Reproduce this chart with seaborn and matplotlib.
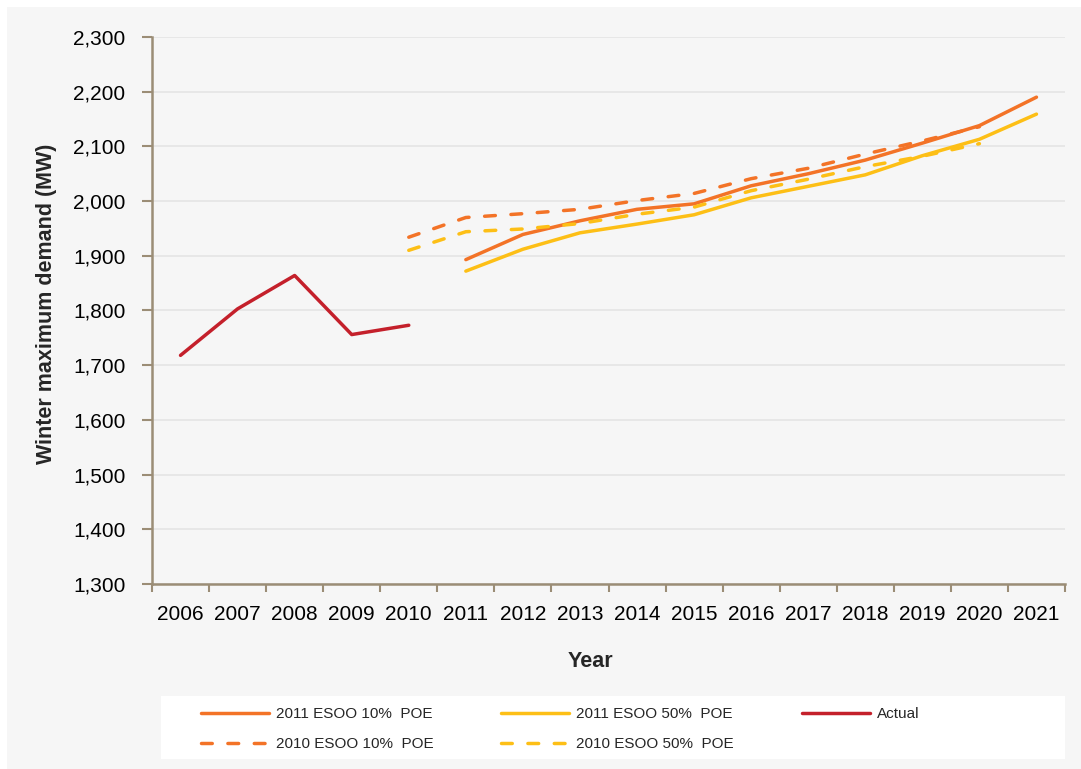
import matplotlib
matplotlib.use("Agg")
import matplotlib.pyplot as plt
from matplotlib.patches import Rectangle
from matplotlib.ticker import FuncFormatter, FixedLocator
import seaborn as sns
import pandas as pd
import numpy as np

# Years on the category axis
years = [str(y) for y in range(2006, 2022)]

# Winter maximum demand (MW)
actual_years = ["2006", "2007", "2008", "2009", "2010"]
actual = [1718, 1803, 1864, 1756, 1773]

esoo2011_years = [str(y) for y in range(2011, 2022)]
esoo2011_poe10 = [1893, 1939, 1964, 1985, 1995, 2028, 2050, 2075, 2106, 2138, 2190]
esoo2011_poe50 = [1872, 1912, 1942, 1958, 1975, 2006, 2027, 2048, 2083, 2113, 2159]

esoo2010_years = [str(y) for y in range(2010, 2021)]
esoo2010_poe10 = [1934, 1970, 1977, 1985, 2001, 2014, 2041, 2060, 2086, 2110, 2136]
esoo2010_poe50 = [1910, 1944, 1949, 1959, 1976, 1989, 2019, 2040, 2063, 2082, 2105]

ORANGE = "#f37327"
YELLOW = "#fdbf16"
RED = "#c4202b"
SPINE = "#9b8d76"
BG = "#f6f6f6"

sns.set_theme(style="white")
plt.rcParams["font.family"] = ["Liberation Sans", "DejaVu Sans"]

fig = plt.figure(figsize=(10.81, 7.69), dpi=100)
fig.patch.set_facecolor("white")
# grey chart area and white legend panel
fig.patches.append(Rectangle((7 / 1081, 0), 1 - 7 / 1081, 1 - 7 / 769,
                             transform=fig.transFigure, facecolor=BG,
                             edgecolor="none", zorder=-10))
fig.patches.append(Rectangle((161 / 1081, 1 - 759 / 769), (1065 - 161) / 1081, 63 / 769,
                             transform=fig.transFigure, facecolor="white",
                             edgecolor="none", zorder=-5))

ax = fig.add_axes([152 / 1081, 1 - 584 / 769, (1065 - 152) / 1081, (584 - 37) / 769])
ax.set_facecolor(BG)

pos = {y: i for i, y in enumerate(years)}

def frame(xs, vals, name):
    return pd.DataFrame({"x": [pos[x] for x in xs], "y": vals, "series": name})

lw = 2.5
dash = (0, (3.1, 4.5))
series = [
    (esoo2011_years, esoo2011_poe10, "2011 ESOO 10%  POE", ORANGE, "-"),
    (esoo2010_years, esoo2010_poe10, "2010 ESOO 10%  POE", ORANGE, dash),
    (esoo2011_years, esoo2011_poe50, "2011 ESOO 50%  POE", YELLOW, "-"),
    (esoo2010_years, esoo2010_poe50, "2010 ESOO 50%  POE", YELLOW, dash),
    (actual_years, actual, "Actual", RED, "-"),
]
for xs, vals, name, col, ls in series:
    df = frame(xs, vals, name)
    sns.lineplot(data=df, x="x", y="y", ax=ax, color=col, linewidth=lw,
                 linestyle=ls, label=name, legend=False,
                 solid_capstyle="round", dash_capstyle="round", zorder=3)

ax.set_xlim(-0.5, len(years) - 0.5)
ax.set_ylim(1300, 2300)
ax.set_yticks(np.arange(1300, 2301, 100))
ax.yaxis.set_major_formatter(FuncFormatter(lambda v, p: f"{int(v):,}"))
ax.grid(axis="y", color="#e4e4e4", linewidth=1.2, zorder=0)
ax.set_axisbelow(True)

ax.set_xticks(range(len(years)))
ax.set_xticklabels(years)
ax.xaxis.set_minor_locator(FixedLocator(np.arange(-0.5, len(years), 1.0)))
ax.tick_params(axis="x", which="major", length=0, pad=15, labelsize=15, colors="black")
ax.tick_params(axis="x", which="minor", length=6, width=1.5, color=SPINE, bottom=True)
ax.tick_params(axis="y", which="major", length=7, width=1.5, color=SPINE, pad=12,
               labelsize=15, labelcolor="black", left=True)

for s in ["top", "right"]:
    ax.spines[s].set_visible(False)
for s in ["left", "bottom"]:
    ax.spines[s].set_color(SPINE)
    ax.spines[s].set_linewidth(1.8)

ax.set_xlabel("Year", fontsize=15.5, fontweight="bold")
ax.set_ylabel("Winter maximum demand (MW)", fontsize=15.5, fontweight="bold")
ax.xaxis.set_label_coords((590 - 152) / 913, (584 - 651) / 547)
ax.yaxis.set_label_coords((57 - 152) / 913, (584 - 304) / 547)

handles, labels = ax.get_legend_handles_labels()
fig.legend(handles, labels, ncol=3, frameon=False, loc="upper left",
           bbox_to_anchor=(201 / 1081, 1 - 707 / 769), fontsize=11,
           handlelength=4.45, handletextpad=0.45, columnspacing=4.45,
           labelspacing=1.08, borderpad=0, borderaxespad=0)

fig.savefig("out.png", dpi=100, facecolor=fig.get_facecolor())
